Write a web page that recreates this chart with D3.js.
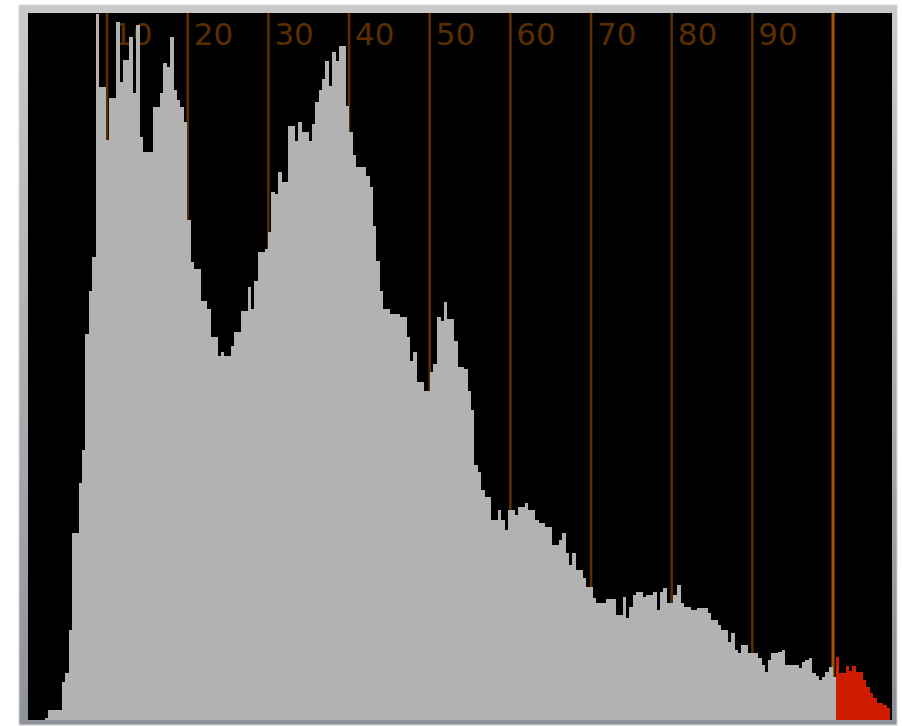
<!DOCTYPE html>
<html>
<head>
<meta charset="utf-8">
<script src="https://cdn.jsdelivr.net/npm/d3@7"></script>
<style>
  body { margin: 0; background: #ffffff; }
  #histo_view { width: 902px; height: 726px; }
</style>
</head>
<body>
<div id="histo_view"></div>
<script>
// histogram counts, one per level (256 levels)
const binCounts = [
  0, 0, 0, 0, 0, 2, 10, 10, 10, 10,
  38, 47, 90, 187, 187, 237, 270, 386, 429, 463,
  706, 633, 633, 580, 622, 622, 698, 638, 660, 660,
  683, 627, 695, 583, 568, 568, 568, 613, 613, 627,
  657, 653, 683, 630, 620, 613, 598, 500, 458, 451,
  451, 419, 419, 411, 383, 383, 364, 368, 364, 364,
  374, 388, 388, 409, 409, 433, 411, 439, 468, 468,
  471, 488, 528, 526, 548, 538, 538, 594, 594, 579,
  598, 588, 588, 579, 596, 618, 630, 641, 659, 634,
  668, 659, 674, 674, 614, 588, 565, 553, 553, 553,
  544, 533, 494, 459, 429, 411, 411, 406, 406, 406,
  403, 403, 383, 359, 368, 338, 338, 329, 329, 348,
  356, 403, 399, 418, 401, 401, 379, 353, 353, 351,
  329, 310, 255, 248, 230, 223, 223, 200, 200, 210,
  200, 190, 210, 210, 205, 213, 213, 217, 210, 210,
  200, 197, 197, 193, 193, 175, 175, 180, 187, 167,
  155, 167, 150, 150, 142, 133, 133, 122, 117, 117,
  117, 121, 121, 121, 105, 105, 123, 102, 113, 125,
  128, 128, 123, 125, 125, 128, 110, 128, 132, 117,
  117, 125, 135, 117, 113, 113, 110, 110, 112, 112,
  112, 107, 100, 100, 95, 90, 90, 78, 87, 70,
  67, 75, 75, 67, 67, 67, 62, 55, 48, 60,
  67, 67, 68, 70, 55, 55, 55, 55, 52, 58,
  60, 62, 47, 44, 40, 43, 48, 53, 43, 63,
  47, 47, 54, 49, 54, 48, 48, 40, 33, 27,
  22, 17, 17, 15, 12, 0
];
// range covered by the histogram, in percent
const histRange = [0.2, 107.44];
// guide lines (percent) and their labels
const guidePercents = [10, 20, 30, 40, 50, 60, 70, 80, 90, 100];
const guideLabels = ["10", "20", "30", "40", "50", "60", "70", "80", "90", ""];
const clipPercent = 100;
const maxCount = 707;

function draw_histo() {
  const frame = {left: 19, top: 5, right: 897, bottom: 725};
  const plot = {left: 28, top: 13, right: 892, bottom: 720};

  const svg = d3.select("#histo_view")
    .append("svg")
      .attr("width", 902)
      .attr("height", 726);

  // frame around the view
  const grad = svg.append("defs").append("linearGradient")
      .attr("id", "frameGrad")
      .attr("x1", 0).attr("y1", 0).attr("x2", 0).attr("y2", 1);
  grad.append("stop").attr("offset", "0%").attr("stop-color", "#c9c9c9");
  grad.append("stop").attr("offset", "100%").attr("stop-color", "#8e9299");

  svg.append("rect")
      .attr("x", frame.left)
      .attr("y", frame.top)
      .attr("width", frame.right - frame.left)
      .attr("height", frame.bottom - frame.top)
      .attr("fill", "url(#frameGrad)")
      .attr("stroke", "#d6d6d6")
      .attr("stroke-width", 1);

  svg.append("rect")
      .attr("x", plot.left)
      .attr("y", plot.top)
      .attr("width", plot.right - plot.left)
      .attr("height", plot.bottom - plot.top)
      .attr("fill", "#000000");

  // scales
  const x = d3.scaleLinear()
    .domain([0, 100])
    .range([26.4, 833]);

  const y = d3.scaleLinear()
    .domain([0, maxCount])
    .range([plot.bottom, plot.top]);

  const binWidth = (histRange[1] - histRange[0]) / binCounts.length;
  const bins = binCounts.map((v, i) => ({
    x0: histRange[0] + i * binWidth,
    x1: histRange[0] + (i + 1) * binWidth,
    value: v
  }));

  const g = svg.append("g");

  // guide lines (drawn under the histogram)
  g.selectAll("line.guide")
    .data(guidePercents)
    .join("line")
      .attr("class", "guide")
      .attr("x1", d => x(d))
      .attr("x2", d => x(d))
      .attr("y1", plot.top)
      .attr("y2", plot.bottom)
      .attr("stroke", d => d === clipPercent ? "#a55300" : "#5c2f00")
      .attr("stroke-width", d => d === clipPercent ? 3 : 2.5);

  g.selectAll("text.guide")
    .data(guidePercents)
    .join("text")
      .attr("class", "guide")
      .attr("x", d => x(d) + 6)
      .attr("y", 45)
      .style("font-family", "DejaVu Sans, sans-serif")
      .style("font-size", "31px")
      .style("fill", "#5a2e00")
      .text((d, i) => guideLabels[i]);

  // histogram bars
  g.selectAll("rect.bin")
    .data(bins)
    .join("rect")
      .attr("class", "bin")
      .attr("x", d => x(d.x0))
      .attr("width", d => x(d.x1) - x(d.x0) + 0.4)
      .attr("y", d => y(d.value))
      .attr("height", d => y(0) - y(d.value))
      .attr("fill", d => d.x0 >= clipPercent ? "#d01c00" : "#b2b2b2")
      .attr("shape-rendering", "crispEdges");
}

draw_histo();
</script>
</body>
</html>
